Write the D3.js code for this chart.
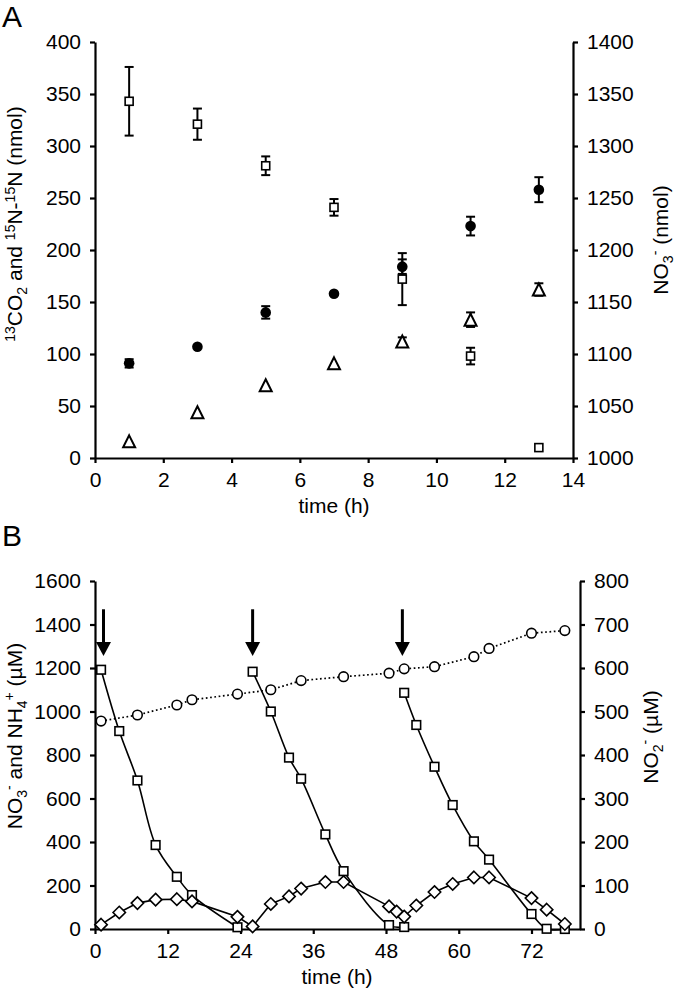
<!DOCTYPE html>
<html><head><meta charset="utf-8">
<script src="https://cdn.jsdelivr.net/npm/d3@7"></script>
<style>
body{margin:0;background:#fff;}
svg text{font-family:"Liberation Sans",Arial,sans-serif;fill:#000;}
</style></head>
<body><svg id="c" width="677" height="991"></svg>
<script>
// ---------- Panel A data ----------
const timeA = [1, 3, 5, 7, 9, 11, 13];
const no3A = [1343, 1321, 1281, 1241, 1172, 1098, 1010];      // squares, right axis (nmol)
const no3AErr = [33, 15, 9, 8, 25, 8, 0];
const co2A = [91, 107, 140, 158, 184, 223, 258];               // filled circles, left axis
const co2AErr = [4, 0, 6, 0, 7, 9, 12];
const n2A = [16, 44, 70, 91, 112, 133, 162];                   // triangles, left axis
const n2AErr = [0, 0, 0, 0, 4, 7, 6];
const xTicksA = [0, 2, 4, 6, 8, 10, 12, 14];
const yTicksA = [0, 50, 100, 150, 200, 250, 300, 350, 400];
const y2TicksA = [1000, 1050, 1100, 1150, 1200, 1250, 1300, 1350, 1400];

// ---------- Panel B data ----------
const no3Cycle1T = [1, 4, 7, 10, 13.5, 16, 23.5];
const no3Cycle1V = [1192, 910, 683, 386, 240, 156, 8];
const no3Cycle2T = [26, 29, 32, 34, 38, 41, 48.5, 51];
const no3Cycle2V = [1183, 1000, 788, 691, 435, 266, 18, 9];
const no3Cycle3T = [51, 53, 56, 59, 62.5, 65, 72, 74.5, 77.5];
const no3Cycle3V = [1086, 938, 746, 570, 403, 319, 69, 1, 0];
const diamondT = [1, 4, 7, 10, 13.5, 16, 23.5, 26, 29, 32, 34, 38, 41, 48.5, 49.75, 51, 53, 56, 59, 62.5, 65, 72, 74.5, 77.5];
const diamondV = [20, 76, 119, 135, 137, 127, 56, 12, 115, 150, 186, 216, 216, 104, 80, 57, 108, 170, 207, 237, 237, 142, 89, 23];
const circleT = [1, 7, 13.5, 16, 23.5, 29, 34, 41, 48.5, 51, 56, 62.5, 65, 72, 77.5];
const circleV = [478, 492, 515, 527, 540, 550, 571, 580, 588, 598, 603, 626, 645, 680, 686]; // right axis (µM)
const arrowT = [1.4, 26, 50.7];
const arrowTop = 1470, arrowTip = 1255;
const xTicksB = [0, 12, 24, 36, 48, 60, 72];
const yTicksB = [0, 200, 400, 600, 800, 1000, 1200, 1400, 1600];
const y2TicksB = [0, 100, 200, 300, 400, 500, 600, 700, 800];

const svg = d3.select("#c");
const FS = 21;
const fmt = d3.format("d");

function styleAxis(g){
  g.attr("font-size",FS).attr("font-family",'"Liberation Sans",Arial,sans-serif');
  g.selectAll(".domain").attr("stroke","#000").attr("stroke-width",2.2);
  g.selectAll(".tick line").attr("stroke","#000").attr("stroke-width",2.2);
  g.selectAll(".tick text").attr("font-size",FS).attr("fill","#000");
}

// ---------- Panel A ----------
const xA = d3.scaleLinear([0,14],[95,573]);
const yA = d3.scaleLinear([0,400],[458,42]);
const yA2 = d3.scaleLinear([1000,1400],[458,42]);

svg.append("g").attr("transform","translate(0,458)")
  .call(d3.axisBottom(xA).tickValues(xTicksA).tickFormat(fmt).tickSize(5).tickSizeOuter(0).tickPadding(9)).call(styleAxis);
svg.append("g").attr("transform","translate(95,0)")
  .call(d3.axisLeft(yA).tickValues(yTicksA).tickFormat(fmt).tickSize(5).tickSizeOuter(0).tickPadding(9)).call(styleAxis);
svg.append("g").attr("transform","translate(573,0)")
  .call(d3.axisRight(yA2).tickValues(y2TicksA).tickFormat(fmt).tickSize(5).tickSizeOuter(0).tickPadding(9)).call(styleAxis);

function errBars(xs, vs, es, yS){
  const g = svg.append("g").attr("stroke","#000").attr("stroke-width",2);
  xs.forEach((t,i)=>{
    if(!es[i]) return;
    const x = xA(t), y1 = yS(vs[i]+es[i]), y0 = yS(vs[i]-es[i]);
    g.append("line").attr("x1",x).attr("x2",x).attr("y1",y1).attr("y2",y0);
    g.append("line").attr("x1",x-4.5).attr("x2",x+4.5).attr("y1",y1).attr("y2",y1);
    g.append("line").attr("x1",x-4.5).attr("x2",x+4.5).attr("y1",y0).attr("y2",y0);
  });
}
errBars(timeA, no3A, no3AErr, yA2);
errBars(timeA, co2A, co2AErr, yA);
errBars(timeA, n2A, n2AErr, yA);

svg.append("g").selectAll("rect").data(timeA).join("rect")
  .attr("x",(t)=>xA(t)-4).attr("y",(t,i)=>yA2(no3A[i])-4).attr("width",8).attr("height",8)
  .attr("fill","#fff").attr("stroke","#000").attr("stroke-width",1.6);
svg.append("g").selectAll("circle").data(timeA).join("circle")
  .attr("cx",(t)=>xA(t)).attr("cy",(t,i)=>yA(co2A[i])).attr("r",5.3).attr("fill","#000");
svg.append("g").selectAll("path").data(timeA).join("path")
  .attr("transform",(t,i)=>`translate(${xA(t)},${yA(n2A[i])})`)
  .attr("d","M0,-6L6,6L-6,6Z").attr("fill","#fff").attr("stroke","#000").attr("stroke-width",2);

// Panel A labels
svg.append("text").attr("x",2).attr("y",27).attr("font-size",30).text("A");
svg.append("text").attr("x",334).attr("y",513).attr("text-anchor","middle").attr("font-size",FS).text("time (h)");
{
  const t = svg.append("text").attr("transform","translate(22,224) rotate(-90)").attr("text-anchor","middle").attr("font-size",FS);
  t.append("tspan").attr("font-size",14).attr("dy",-7).text("13");
  t.append("tspan").attr("dy",7).text("CO");
  t.append("tspan").attr("font-size",14).attr("dy",5).text("2");
  t.append("tspan").attr("dy",-5).text(" and ");
  t.append("tspan").attr("font-size",14).attr("dy",-7).text("15");
  t.append("tspan").attr("dy",7).text("N-");
  t.append("tspan").attr("font-size",14).attr("dy",-7).text("15");
  t.append("tspan").attr("dy",7).text("N (nmol)");
}
{
  const t = svg.append("text").attr("transform","translate(668,240) rotate(-90)").attr("text-anchor","middle").attr("font-size",FS);
  t.append("tspan").text("NO");
  t.append("tspan").attr("font-size",14).attr("dy",5).text("3");
  t.append("tspan").attr("font-size",14).attr("dy",-13).text("-");
  t.append("tspan").attr("dy",8).text(" (nmol)");
}

// ---------- Panel B ----------
const xB = d3.scaleLinear([0,80],[95,580]);
const yB = d3.scaleLinear([0,1600],[929,581]);
const yB2 = d3.scaleLinear([0,800],[929,581]);

svg.append("g").attr("transform","translate(0,929)")
  .call(d3.axisBottom(xB).tickValues(xTicksB).tickFormat(fmt).tickSize(5).tickSizeOuter(0).tickPadding(9)).call(styleAxis);
svg.append("g").attr("transform","translate(95,0)")
  .call(d3.axisLeft(yB).tickValues(yTicksB).tickFormat(fmt).tickSize(5).tickSizeOuter(0).tickPadding(9)).call(styleAxis);
svg.append("g").attr("transform","translate(580,0)")
  .call(d3.axisRight(yB2).tickValues(y2TicksB).tickFormat(fmt).tickSize(5).tickSizeOuter(0).tickPadding(9)).call(styleAxis);

const smooth = d3.line().x(d=>xB(d[0])).y(d=>yB(d[1])).curve(d3.curveCatmullRom.alpha(0.5));
const straight = d3.line().x(d=>xB(d[0])).y(d=>yB(d[1]));
const straight2 = d3.line().x(d=>xB(d[0])).y(d=>yB2(d[1]));

const cycles = [[no3Cycle1T,no3Cycle1V],[no3Cycle2T,no3Cycle2V],[no3Cycle3T,no3Cycle3V]];
const diamonds = diamondT.map((t,i)=>[t,diamondV[i]]);
const circles = circleT.map((t,i)=>[t,circleV[i]]);

svg.append("path").attr("d",straight2(circles)).attr("fill","none").attr("stroke","#000").attr("stroke-width",1.7).attr("stroke-dasharray","1.7,2.6");
svg.append("path").attr("d",straight(diamonds)).attr("fill","none").attr("stroke","#000").attr("stroke-width",1.6);
cycles.forEach(([ts,vs])=>{
  svg.append("path").attr("d",smooth(ts.map((t,i)=>[t,vs[i]]))).attr("fill","none").attr("stroke","#000").attr("stroke-width",1.6);
});

// arrows
arrowT.forEach(t=>{
  const x = xB(t);
  svg.append("line").attr("x1",x).attr("x2",x).attr("y1",yB(arrowTop)).attr("y2",yB(arrowTip)-10).attr("stroke","#000").attr("stroke-width",3);
  svg.append("path").attr("d",`M${x-7.5},${yB(arrowTip)-14}L${x+7.5},${yB(arrowTip)-14}L${x},${yB(arrowTip)}Z`).attr("fill","#000");
});

cycles.forEach(([ts,vs])=>{
  svg.append("g").selectAll("rect").data(ts).join("rect")
    .attr("x",t=>xB(t)-4.3).attr("y",(t,i)=>yB(vs[i])-4.3).attr("width",8.6).attr("height",8.6)
    .attr("fill","#fff").attr("stroke","#000").attr("stroke-width",1.6);
});
svg.append("g").selectAll("path").data(diamonds).join("path")
  .attr("transform",d=>`translate(${xB(d[0])},${yB(d[1])})`)
  .attr("d","M0,-6.2L6.2,0L0,6.2L-6.2,0Z").attr("fill","#fff").attr("stroke","#000").attr("stroke-width",1.6);
svg.append("g").selectAll("circle").data(circles).join("circle")
  .attr("cx",d=>xB(d[0])).attr("cy",d=>yB2(d[1])).attr("r",4.8)
  .attr("fill","#fff").attr("stroke","#000").attr("stroke-width",1.6);

// Panel B labels
svg.append("text").attr("x",2).attr("y",546).attr("font-size",30).text("B");
svg.append("text").attr("x",337).attr("y",984).attr("text-anchor","middle").attr("font-size",FS).text("time (h)");
{
  const t = svg.append("text").attr("transform","translate(22,736) rotate(-90)").attr("text-anchor","middle").attr("font-size",FS);
  t.append("tspan").text("NO");
  t.append("tspan").attr("font-size",14).attr("dy",5).text("3");
  t.append("tspan").attr("font-size",14).attr("dy",-13).text("-");
  t.append("tspan").attr("dy",8).text("  and NH");
  t.append("tspan").attr("font-size",14).attr("dy",5).text("4");
  t.append("tspan").attr("font-size",14).attr("dy",-13).text("+");
  t.append("tspan").attr("dy",8).text(" (µM)");
}
{
  const t = svg.append("text").attr("transform","translate(658,737) rotate(-90)").attr("text-anchor","middle").attr("font-size",FS);
  t.append("tspan").text("NO");
  t.append("tspan").attr("font-size",14).attr("dy",5).text("2");
  t.append("tspan").attr("font-size",14).attr("dy",-13).text("-");
  t.append("tspan").attr("dy",8).text(" (µM)");
}
</script></body></html>
